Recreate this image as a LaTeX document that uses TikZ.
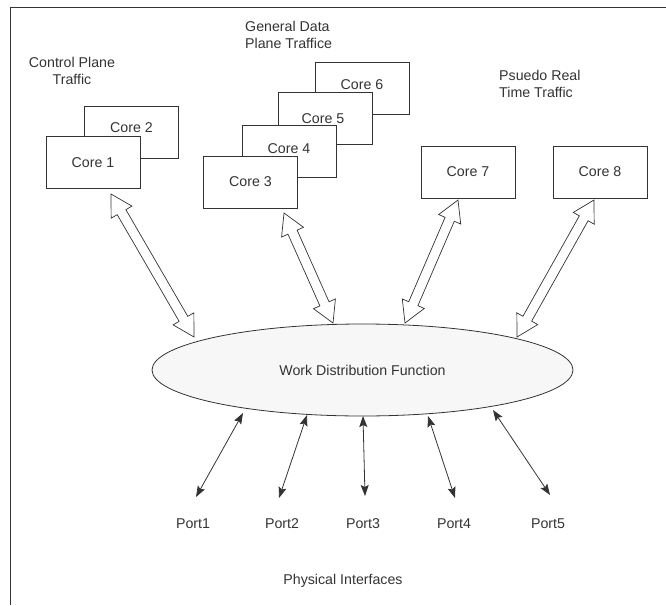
\documentclass[tikz,border=0pt]{standalone}
\usepackage{fontspec}
\setmainfont{Liberation Sans}
\usetikzlibrary{shapes.geometric,arrows.meta,calc}
\definecolor{ln}{HTML}{333333}
\definecolor{ellfill}{HTML}{F7F7F7}
\tikzset{
  corebox/.style={draw=ln, line width=0.8pt, fill=white, minimum width=94pt, minimum height=52pt, inner sep=0pt, font=\fontsize{14.2}{17}\selectfont, text=ln},
  lbl/.style={inner sep=0pt, font=\fontsize{14.2}{17.5}\selectfont, text=ln},
  bigarrow/.style={draw=ln, line width=0.7pt, fill=white, line join=miter},
  thinarrow/.style={draw=ln, line width=0.8pt, {Stealth[length=11pt,width=8pt,inset=2pt]}-{Stealth[length=11pt,width=8pt,inset=2pt]}}
}
\newcommand{\blockarrow}[2]{%
  \draw[bigarrow] (#1)
    -- ($(#1)!21pt!(#2)!12pt!90:(#2)$)
    -- ($(#1)!21pt!(#2)!5pt!90:(#2)$)
    -- ($(#2)!21pt!(#1)!5pt!-90:(#1)$)
    -- ($(#2)!21pt!(#1)!12pt!-90:(#1)$)
    -- (#2)
    -- ($(#2)!21pt!(#1)!12pt!90:(#1)$)
    -- ($(#2)!21pt!(#1)!5pt!90:(#1)$)
    -- ($(#1)!21pt!(#2)!5pt!-90:(#2)$)
    -- ($(#1)!21pt!(#2)!12pt!-90:(#2)$)
    -- cycle;}
\begin{document}
\begin{tikzpicture}[x=1pt,y=-1pt]
\useasboundingbox (0,0) rectangle (666,605);
% frame
\coordinate (fr1) at (10,605);
\coordinate (fr2) at (10,7);
\coordinate (fr3) at (666,7);
\draw[ln, line width=0.8pt] (fr1) -- (fr2) -- (fr3);

% labels
\node[lbl, align=center] (cpt) at (72,71) {Control Plane\\Traffic};
\node[lbl, align=left, anchor=west] (gdt) at (245,35) {General Data\\Plane Traffice};
\node[lbl, align=left, anchor=west] (prt) at (499,84) {Psuedo Real\\Time Traffic};

% cores
\node[corebox] (c2) at (131.5,132) {};
\node[lbl] at (131.5,128) {Core 2};
\node[corebox] (c1) at (93,162.5) {Core 1};
\node[corebox] (c6) at (362,88) {};
\node[lbl] at (362,85) {Core 6};
\node[corebox] (c5) at (325,118) {};
\node[lbl] at (323,119) {Core 5};
\node[corebox] (c4) at (289,151) {};
\node[lbl] at (289,149) {Core 4};
\node[corebox] (c3) at (250.5,182) {Core 3};
\node[corebox] (c7) at (468,172) {Core 7};
\node[corebox] (c8) at (600,172) {Core 8};

% ellipse
\node[ellipse, draw=ln, line width=0.8pt, fill=ellfill, minimum width=421pt, minimum height=92pt, inner sep=0pt] (wdf) at (362.5,370) {};
\node[lbl] at (362.5,370) {Work Distribution Function};

% block arrows
\coordinate (a1s) at (111,194);  \coordinate (a1e) at (194,337);
\coordinate (a2s) at (284,213);  \coordinate (a2e) at (333,323);
\coordinate (a3s) at (458,200);  \coordinate (a3e) at (405,323);
\coordinate (a4s) at (594,200);  \coordinate (a4e) at (517,337);
\blockarrow{a1s}{a1e}
\blockarrow{a2s}{a2e}
\blockarrow{a3s}{a3e}
\blockarrow{a4s}{a4e}

% ports
\node[lbl] (p1) at (193,524) {Port1};
\node[lbl] (p2) at (282,524) {Port2};
\node[lbl] (p3) at (363,524) {Port3};
\node[lbl] (p4) at (454,524) {Port4};
\node[lbl] (p5) at (548,524) {Port5};
\node[lbl] (phy) at (343,581) {Physical Interfaces};

\coordinate (t1) at (243,413); \coordinate (b1) at (196,497);
\coordinate (t2) at (307,415); \coordinate (b2) at (279,498);
\coordinate (t3) at (363,416); \coordinate (b3) at (365,496);
\coordinate (t4) at (428,416); \coordinate (b4) at (455,498);
\coordinate (t5) at (493,410); \coordinate (b5) at (550,495);
\draw[thinarrow] (t1) -- (b1);
\draw[thinarrow] (t2) -- (b2);
\draw[thinarrow] (t3) -- (b3);
\draw[thinarrow] (t4) -- (b4);
\draw[thinarrow] (t5) -- (b5);
\end{tikzpicture}
\end{document}
